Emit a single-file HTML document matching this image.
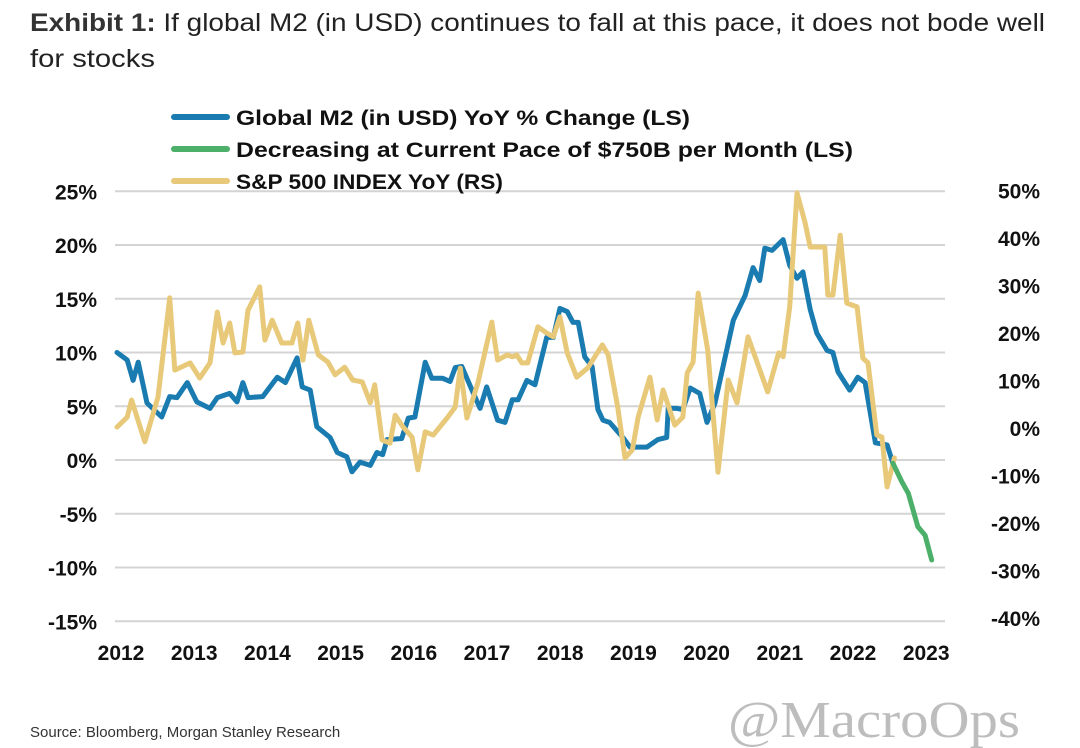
<!DOCTYPE html>
<html><head><meta charset="utf-8"><style>
html,body{margin:0;padding:0;background:#fff;}
svg{display:block;font-family:"Liberation Sans",Arial,sans-serif;}
</style></head><body>
<svg id="chart" width="1080" height="748" viewBox="0 0 1080 748" xmlns="http://www.w3.org/2000/svg">
<text x="30" y="31" font-size="25" fill="#222" textLength="1015" lengthAdjust="spacingAndGlyphs"><tspan font-weight="bold" fill="#333">Exhibit 1:</tspan>  If global M2 (in USD) continues to fall at this pace, it does not bode well</text>
<text x="30" y="67" font-size="25" fill="#222" textLength="125" lengthAdjust="spacingAndGlyphs">for stocks</text>
<g id="grid"></g>
<g id="axes"></g>
<g id="series"></g>
<g>
 <line x1="174" y1="117" x2="227" y2="117" stroke="#1a7bb0" stroke-width="6" stroke-linecap="round"/>
 <text x="236" y="125" font-size="21" font-weight="bold" fill="#111" textLength="454" lengthAdjust="spacingAndGlyphs">Global M2 (in USD) YoY % Change (LS)</text>
 <line x1="174" y1="149" x2="227" y2="149" stroke="#4caf6a" stroke-width="6" stroke-linecap="round"/>
 <text x="236" y="157" font-size="21" font-weight="bold" fill="#111" textLength="617" lengthAdjust="spacingAndGlyphs">Decreasing at Current Pace of $750B per Month (LS)</text>
 <line x1="174" y1="181" x2="227" y2="181" stroke="#e8c97a" stroke-width="6" stroke-linecap="round"/>
 <text x="236" y="189" font-size="21" font-weight="bold" fill="#111" textLength="267" lengthAdjust="spacingAndGlyphs">S&amp;P 500 INDEX YoY (RS)</text>
</g>
<text x="30" y="737" font-size="15" fill="#333">Source: Bloomberg, Morgan Stanley Research</text>
<text x="728" y="737" font-size="52" fill="#bdbdbd" font-family="Liberation Serif, serif" textLength="292" lengthAdjust="spacingAndGlyphs">@MacroOps</text>
</svg>
<script>
const leftTicks=[25,20,15,10,5,0,-5,-10,-15];
const rightTicks=[50,40,30,20,10,0,-10,-20,-30,-40];
const years=[2012,2013,2014,2015,2016,2017,2018,2019,2020,2021,2022,2023];
const m2Dates=[2012.00,2012.14,2012.22,2012.29,2012.41,2012.61,2012.72,2012.82,2012.96,2013.09,2013.27,2013.37,2013.54,2013.64,2013.72,2013.79,2013.99,2014.19,2014.30,2014.46,2014.53,2014.64,2014.73,2014.91,2015.01,2015.14,2015.21,2015.32,2015.46,2015.55,2015.63,2015.69,2015.89,2015.98,2016.07,2016.21,2016.30,2016.45,2016.55,2016.62,2016.71,2016.85,2016.96,2017.05,2017.20,2017.30,2017.40,2017.48,2017.60,2017.71,2017.87,2017.96,2018.05,2018.15,2018.23,2018.30,2018.39,2018.49,2018.57,2018.64,2018.73,2018.91,2019.01,2019.24,2019.39,2019.51,2019.53,2019.65,2019.73,2019.83,2019.96,2020.06,2020.17,2020.42,2020.58,2020.69,2020.78,2020.85,2020.95,2021.10,2021.19,2021.29,2021.37,2021.47,2021.56,2021.70,2021.78,2021.85,2022.01,2022.12,2022.22,2022.36,2022.52,2022.60];
const m2Vals=[10.0,9.3,7.4,9.1,5.3,4.0,5.9,5.8,7.2,5.4,4.8,5.8,6.2,5.4,7.2,5.8,5.9,7.7,7.2,9.5,6.8,6.5,3.1,2.1,0.7,0.3,-1.1,-0.2,-0.5,0.7,0.5,1.9,2.0,3.9,4.0,9.1,7.6,7.6,7.3,8.6,8.7,6.5,4.8,6.8,3.7,3.5,5.6,5.6,7.4,7.0,11.4,11.4,14.1,13.8,12.8,12.8,9.6,8.7,4.7,3.7,3.5,2.1,1.2,1.2,1.9,2.1,4.8,4.8,4.7,6.7,6.2,3.5,5.3,13.0,15.3,17.9,16.7,19.7,19.5,20.5,18.1,16.9,17.5,14.0,11.8,10.2,10.0,8.2,6.5,7.7,7.2,1.6,1.4,-0.3];
const projDates=[2022.60,2022.72,2022.81,2022.94,2023.04,2023.13];
const projVals=[-0.3,-2.0,-3.1,-6.2,-7.0,-9.3];
const spDates=[2012.00,2012.14,2012.20,2012.38,2012.56,2012.72,2012.79,2013.00,2013.13,2013.27,2013.37,2013.45,2013.54,2013.61,2013.72,2013.79,2013.95,2014.02,2014.12,2014.25,2014.39,2014.47,2014.54,2014.62,2014.75,2014.88,2014.98,2015.11,2015.22,2015.35,2015.46,2015.52,2015.62,2015.73,2015.80,2015.91,2016.03,2016.11,2016.21,2016.32,2016.51,2016.62,2016.69,2016.78,2016.93,2017.12,2017.20,2017.33,2017.40,2017.46,2017.53,2017.61,2017.75,2017.87,2017.96,2018.05,2018.15,2018.28,2018.43,2018.63,2018.71,2018.84,2018.94,2019.04,2019.12,2019.28,2019.38,2019.46,2019.62,2019.73,2019.79,2019.87,2019.94,2020.07,2020.21,2020.35,2020.47,2020.62,2020.89,2021.04,2021.10,2021.19,2021.29,2021.40,2021.47,2021.67,2021.71,2021.78,2021.88,2021.97,2022.11,2022.19,2022.26,2022.38,2022.45,2022.52,2022.62];
const spVals=[0.2,2.3,5.9,-2.9,6.5,27.4,12.2,13.7,10.5,13.7,24.4,17.9,22.1,15.8,16.0,24.8,29.7,18.5,22.7,17.9,17.9,22.1,14.3,22.7,15.4,13.9,11.2,12.8,10.1,9.7,5.3,9.1,-2.5,-3.2,2.7,0.2,-1.9,-8.8,-0.8,-1.5,2.1,4.4,12.6,2.1,9.5,22.3,14.3,15.4,15.0,15.4,13.7,13.7,21.3,20.0,19.2,23.4,15.8,10.7,12.6,17.5,15.4,4.4,-6.3,-4.6,2.3,10.7,1.7,8.0,0.6,2.3,11.6,13.9,28.4,16.4,-9.3,10.1,5.3,19.2,7.6,15.8,15.0,25.5,49.5,43.2,38.1,38.1,28.0,28.0,40.6,26.3,25.5,14.7,13.7,-1.5,-1.9,-12.4,-6.3,-13.1];

const NS="http://www.w3.org/2000/svg";
const X0=117, XW=73.2, X1=945;
function xScale(d){return X0+(d-2012)*XW;}
function yL(v){return 460-v*10.75;}
function yR(v){return 428-v*4.75;}
function mk(tag,attrs,parent){const e=document.createElementNS(NS,tag);for(const k in attrs)e.setAttribute(k,attrs[k]);parent.appendChild(e);return e;}
const grid=document.getElementById('grid'),axes=document.getElementById('axes'),series=document.getElementById('series');
leftTicks.forEach(v=>{
  const l=mk('line',{x1:115,x2:X1,y1:yL(v),y2:yL(v),stroke:'#d4d4d4','stroke-width':2},grid);
  
  
  const t=mk('text',{x:97,y:yL(v)+8,'text-anchor':'end','font-size':21,'font-weight':'bold',fill:'#111'},axes);
  t.textContent=v+'%';
  
  
});
rightTicks.forEach(v=>{
  const t=mk('text',{x:1040,y:yR(v)+8,'text-anchor':'end','font-size':21,'font-weight':'bold',fill:'#111'},axes);
  t.textContent=v+'%';
  
  
});
years.forEach(y=>{
  const t=mk('text',{x:xScale(y)+4,y:660,'text-anchor':'middle','font-size':21,'font-weight':'bold',fill:'#111'},axes);
  t.textContent=y;
  
  
});
function line(dates,vals,ys,color,name){
  const d=dates.map((dt,i)=>(i?'L':'M')+xScale(dt).toFixed(1)+','+ys(vals[i]).toFixed(1)).join('');
  const p=mk('path',{d:d,fill:'none',stroke:color,'stroke-width':5,'stroke-linejoin':'round','stroke-linecap':'round'},series);
  
  
}
line(m2Dates,m2Vals,yL,'#1a7bb0','m2-line');
line(spDates,spVals,yR,'#e8c97a','sp500-line');
line(projDates,projVals,yL,'#4caf6a','projection-line');
</script>
</body></html>
